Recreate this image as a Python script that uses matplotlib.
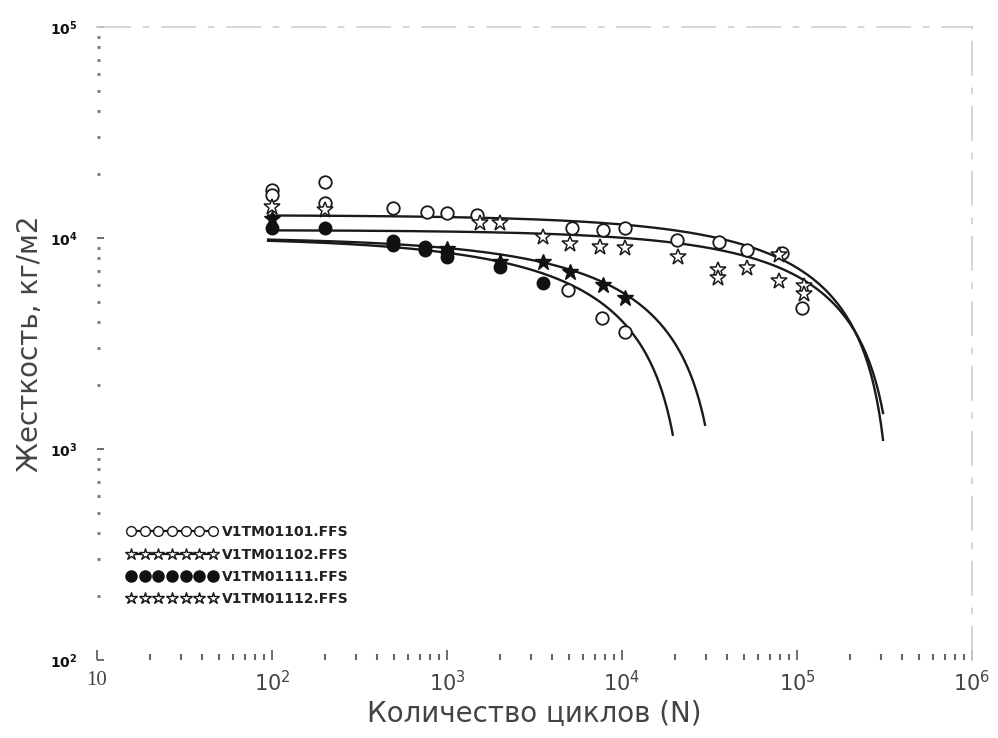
import numpy as np
import matplotlib
matplotlib.use("Agg")
import matplotlib.pyplot as plt
from matplotlib.lines import Line2D
from matplotlib.ticker import LogLocator, FixedLocator, FixedFormatter, NullFormatter

# ---------------- data ----------------
# V1TM01101.FFS  (open circles)
n_1101 = [100, 100, 200, 200, 490, 770, 1000, 1480, 5170, 7800, 10400,
          20500, 36000, 52000, 81600, 107000, 4900, 7640, 10400]
s_1101 = [16900, 16000, 18400, 14650, 13870, 13270, 13120, 12850, 11150, 10910, 11150,
          9790, 9570, 8770, 8490, 4660, 5680, 4180, 3590]
# V1TM01102.FFS  (open stars)
n_1102 = [100, 200, 1550, 2010, 3540, 5050, 7470, 10400, 20900, 35200, 35200,
          51900, 79000, 79000, 109000, 109000]
s_1102 = [14030, 13600, 11770, 11770, 10110, 9370, 9060, 8970, 8130, 7050, 6460,
          7210, 8300, 6250, 5930, 5430]
# V1TM01111.FFS  (filled circles)
n_1111 = [100, 200, 490, 490, 750, 750, 1000, 1000, 2010, 3540]
s_1111 = [11150, 11150, 9270, 9700, 9060, 8750, 8130, 8600, 7290, 6120]
# V1TM01112.FFS  (filled stars)
n_1112 = [100, 1000, 2010, 3540, 5050, 7800, 10400]
s_1112 = [12300, 8900, 7700, 7690, 6900, 5980, 5200]

# fitted curves  S = A * (1 - (N/Nf)^b), drawn from N_start to N_end
fit_A = [12850, 10910, 10110, 10110]
fit_Nf = [356000, 383000, 24100, 37500]
fit_b = [0.65, 0.69, 0.58, 0.60]
fit_Nend = [3.1e5, 3.1e5, 1.95e4, 2.98e4]
fit_Nstart = 95

legend_labels = ["V1TM01101.FFS", "V1TM01102.FFS", "V1TM01111.FFS", "V1TM01112.FFS"]
x_ticks = [10, 100, 1000, 10000, 100000, 1000000]
x_ticklabels = ["10", r"$10^{2}$", r"$10^{3}$", r"$10^{4}$", r"$10^{5}$", r"$10^{6}$"]
y_ticks = [100, 1000, 10000, 100000]
y_ticklabels = [r"$\mathbf{10^{2}}$", r"$\mathbf{10^{3}}$", r"$\mathbf{10^{4}}$", r"$\mathbf{10^{5}}$"]

# ---------------- figure ----------------
fig = plt.figure(figsize=(9.98, 7.38), dpi=100)
ax = fig.add_axes([0.0972, 0.1057, 0.8768, 0.8577])
ax.set_xscale("log")
ax.set_yscale("log")
ax.set_xlim(10, 1e6)
ax.set_ylim(100, 1e5)

for A, Nf, b, Ne in zip(fit_A, fit_Nf, fit_b, fit_Nend):
    N = np.logspace(np.log10(fit_Nstart), np.log10(Ne), 300)
    S = A * (1 - (N / Nf) ** b)
    ax.plot(N, S, color="#1a1a1a", lw=1.7, zorder=2)

ms = 9
ax.plot(n_1101, s_1101, "o", mfc="white", mec="#1a1a1a", mew=1.3, ms=ms, zorder=3)
ax.plot(n_1102, s_1102, "*", mfc="white", mec="#1a1a1a", mew=1.1, ms=ms + 3, zorder=3)
ax.plot(n_1111, s_1111, "o", mfc="#111111", mec="#111111", mew=1.0, ms=ms, zorder=3)
ax.plot(n_1112, s_1112, "*", mfc="#111111", mec="#111111", mew=1.0, ms=ms + 3, zorder=3)

# axes styling
for side in ["left", "bottom"]:
    ax.spines[side].set_visible(False)
for side in ["top", "right"]:
    ax.spines[side].set_color("#d0d0d0")
    ax.spines[side].set_linestyle((0, (20, 8, 3, 8)))
    ax.spines[side].set_linewidth(1.2)

ax.xaxis.set_major_locator(FixedLocator(x_ticks))
ax.xaxis.set_major_formatter(FixedFormatter(x_ticklabels))
ax.yaxis.set_major_locator(FixedLocator(y_ticks))
ax.yaxis.set_major_formatter(FixedFormatter(y_ticklabels))
ax.xaxis.set_minor_locator(LogLocator(base=10, subs=np.arange(2, 10), numticks=20))
ax.yaxis.set_minor_locator(LogLocator(base=10, subs=np.arange(2, 10), numticks=20))
ax.xaxis.set_minor_formatter(NullFormatter())
ax.yaxis.set_minor_formatter(NullFormatter())

ax.tick_params(axis="x", which="major", direction="in", length=7, width=1.2,
               color="#555555", labelsize=15, labelcolor="#444444", pad=8)
ax.tick_params(axis="x", which="minor", direction="in", length=4, width=1.5, color="#666666")
ax.tick_params(axis="y", which="major", direction="in", length=5, width=1.2,
               color="#555555", labelsize=10, labelcolor="#111111", pad=14)
ax.tick_params(axis="y", which="minor", direction="in", length=2.5, width=2, color="#777777")
for lab in ax.get_xticklabels():
    lab.set_family("Liberation Serif")

ax.set_xlabel("Количество циклов (N)", fontsize=20, color="#444444",
              family="DejaVu Sans", labelpad=2)
ax.set_ylabel("Жесткость, кг/м2", fontsize=20, color="#444444",
              family="DejaVu Sans", labelpad=4)

# legend
handles = [
    Line2D([], [], color="#1a1a1a", lw=1.6, marker="o", mfc="white", mec="#1a1a1a", ms=7),
    Line2D([], [], color="#1a1a1a", lw=1.6, marker="*", mfc="white", mec="#1a1a1a", ms=9),
    Line2D([], [], color="#111111", lw=0, marker="o", mfc="#111111", mec="#111111", ms=8),
    Line2D([], [], color="#111111", lw=0, marker="*", mfc="white", mec="#111111", ms=9),
]
leg = ax.legend(handles, legend_labels, loc="lower left", bbox_to_anchor=(0.02, 0.065),
                frameon=False, numpoints=7, handlelength=6.5, handletextpad=0.3,
                labelspacing=0.6, prop={"size": 10, "weight": "bold", "family": "DejaVu Sans"})
for t in leg.get_texts():
    t.set_color("#222222")

fig.savefig("out.png", dpi=100)
